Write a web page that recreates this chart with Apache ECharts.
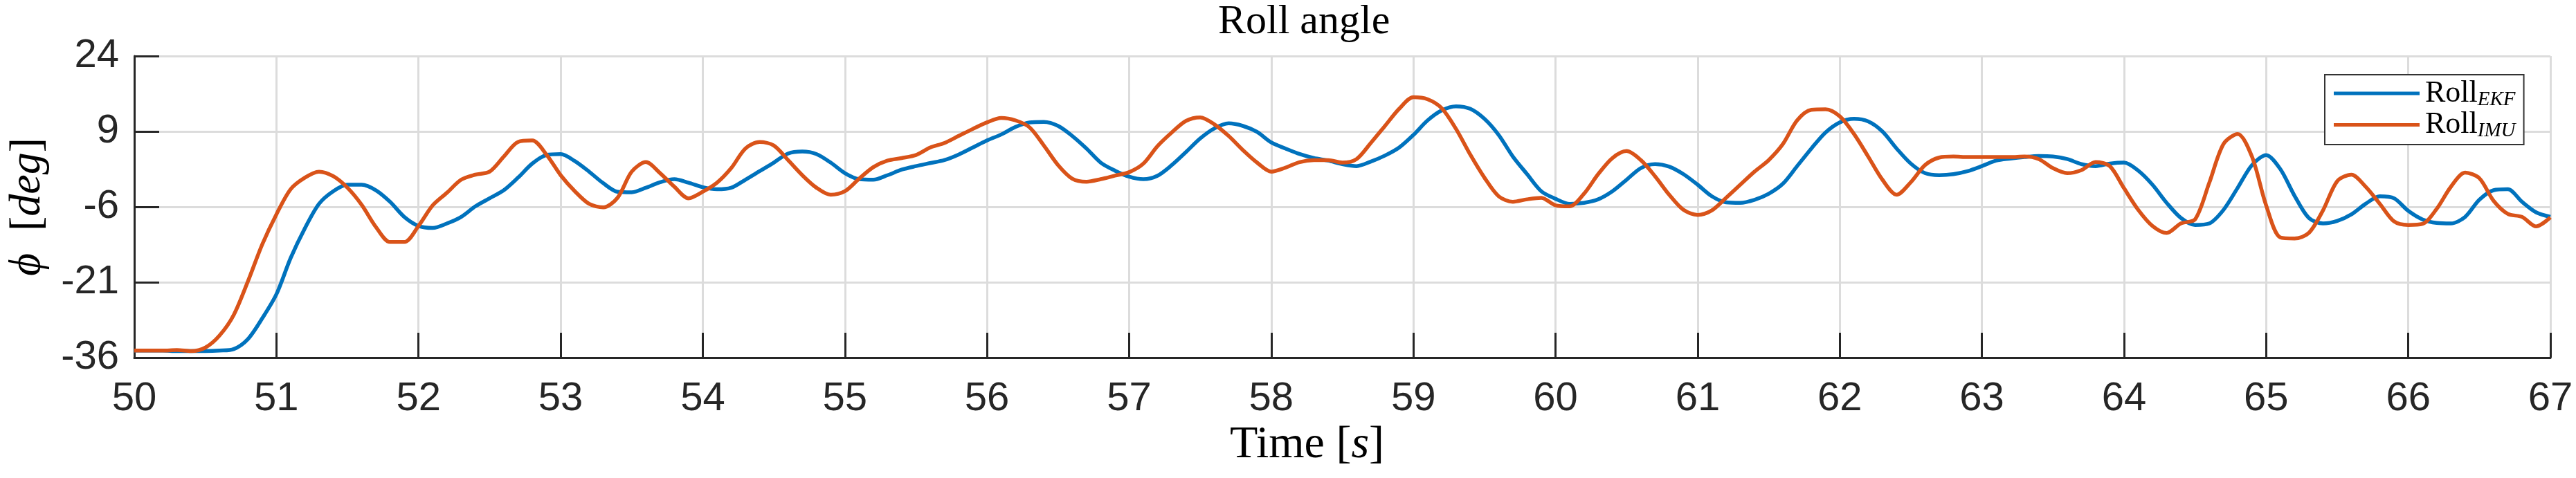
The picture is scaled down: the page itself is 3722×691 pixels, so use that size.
<!DOCTYPE html>
<html>
<head>
<meta charset="utf-8">
<title>Roll angle</title>
<script src="https://cdn.jsdelivr.net/npm/echarts@6/dist/echarts.min.js"></script>
<style>
  html, body { margin: 0; padding: 0; background: #fff; }
  #echarts { width: 3722px; height: 691px; }
</style>
</head>
<body>
<div id="echarts"></div>
<script>
// time stamps [s]
const time = [
  50.0, 50.1, 50.2, 50.3, 50.4, 50.5, 50.6, 50.7, 50.8, 50.9,
  51.0, 51.1, 51.2, 51.3, 51.4, 51.5, 51.6, 51.7, 51.8, 51.9,
  52.0, 52.1, 52.2, 52.3, 52.4, 52.5, 52.6, 52.7, 52.8, 52.9,
  53.0, 53.1, 53.2, 53.3, 53.4, 53.5, 53.6, 53.7, 53.8, 53.9,
  54.0, 54.1, 54.2, 54.3, 54.4, 54.5, 54.6, 54.7, 54.8, 54.9,
  55.0, 55.1, 55.2, 55.3, 55.4, 55.5, 55.6, 55.7, 55.8, 55.9,
  56.0, 56.1, 56.2, 56.3, 56.4, 56.5, 56.6, 56.7, 56.8, 56.9,
  57.0, 57.1, 57.2, 57.3, 57.4, 57.5, 57.6, 57.7, 57.8, 57.9,
  58.0, 58.1, 58.2, 58.3, 58.4, 58.5, 58.6, 58.7, 58.8, 58.9,
  59.0, 59.1, 59.2, 59.3, 59.4, 59.5, 59.6, 59.7, 59.8, 59.9,
  60.0, 60.1, 60.2, 60.3, 60.4, 60.5, 60.6, 60.7, 60.8, 60.9,
  61.0, 61.1, 61.2, 61.3, 61.4, 61.5, 61.6, 61.7, 61.8, 61.9,
  62.0, 62.1, 62.2, 62.3, 62.4, 62.5, 62.6, 62.7, 62.8, 62.9,
  63.0, 63.1, 63.2, 63.3, 63.4, 63.5, 63.6, 63.7, 63.8, 63.9,
  64.0, 64.1, 64.2, 64.3, 64.4, 64.5, 64.6, 64.7, 64.8, 64.9,
  65.0, 65.1, 65.2, 65.3, 65.4, 65.5, 65.6, 65.7, 65.8, 65.9,
  66.0, 66.1, 66.2, 66.3, 66.4, 66.5, 66.6, 66.7, 66.8, 66.9,
  67.0
];

// roll estimated by the EKF [deg]
const rollEKF = [
  -34.6, -34.6, -34.6, -34.7, -34.7, -34.7, -34.6, -34.3, -32.3, -28.2,
  -23.4, -16.2, -10.3, -5.4, -2.9, -1.6, -1.6, -2.7, -5.0, -8.0,
  -9.8, -10.2, -9.3, -8.0, -5.9, -4.3, -2.7, -0.2, 2.6, 4.3,
  4.5, 3.1, 1.0, -1.3, -3.0, -3.1, -2.2, -1.1, -0.5, -1.2,
  -2.1, -2.5, -2.2, -0.6, 1.1, 2.8, 4.6, 5.0, 4.5, 2.8,
  0.7, -0.5, -0.6, 0.3, 1.4, 2.1, 2.7, 3.3, 4.4, 5.8,
  7.2, 8.4, 9.9, 10.8, 10.9, 10.1, 8.1, 5.6, 2.8, 1.2,
  0.0, -0.5, 0.2, 2.3, 4.9, 7.6, 9.6, 10.6, 10.1, 8.9,
  6.8, 5.6, 4.5, 3.7, 3.2, 2.5, 2.1, 3.0, 4.2, 5.8,
  8.3, 11.2, 13.2, 14.0, 13.5, 11.5, 8.3, 4.0, 0.5, -2.9,
  -4.4, -5.4, -5.2, -4.5, -2.9, -0.6, 1.7, 2.5, 2.0, 0.5,
  -1.6, -3.9, -5.1, -5.2, -4.6, -3.4, -1.4, 2.1, 5.6, 8.8,
  10.8, 11.5, 11.0, 9.0, 5.6, 2.6, 0.7, 0.3, 0.5, 1.1,
  2.1, 3.2, 3.6, 3.9, 4.1, 4.0, 3.5, 2.5, 2.1, 2.6,
  2.8, 1.2, -1.6, -5.2, -8.2, -9.6, -9.3, -6.6, -2.2, 2.3,
  4.3, 1.5, -3.8, -8.2, -9.3, -8.8, -7.5, -5.4, -3.9, -4.3,
  -6.8, -8.5, -9.2, -9.3, -8.0, -4.6, -2.7, -2.5, -5.0, -7.1,
  -8.0
];

// roll measured by the IMU [deg]
const rollIMU = [
  -34.6, -34.6, -34.6, -34.5, -34.7, -34.0, -31.6, -27.5, -20.8, -13.5,
  -7.5, -2.5, -0.2, 1.0, 0.1, -2.2, -5.6, -10.0, -13.0, -13.0,
  -9.8, -5.7, -3.2, -0.6, 0.4, 1.0, 4.0, 6.9, 7.2, 4.4,
  0.3, -2.9, -5.4, -6.1, -4.2, 1.0, 2.9, 0.7, -2.0, -4.3,
  -3.0, -1.2, 1.7, 5.6, 6.9, 6.2, 3.3, 0.3, -2.2, -3.6,
  -2.9, -0.4, 1.9, 3.2, 3.7, 4.3, 5.8, 6.7, 8.1, 9.5,
  10.8, 11.7, 11.2, 9.8, 6.2, 2.3, -0.4, -1.0, -0.5, 0.2,
  0.9, 2.6, 6.1, 8.8, 11.1, 11.8, 10.4, 8.1, 5.3, 2.8,
  1.0, 1.8, 2.9, 3.3, 3.3, 2.8, 3.5, 6.7, 10.1, 13.5,
  15.8, 15.4, 13.6, 9.5, 4.4, -0.2, -3.9, -5.0, -4.5, -4.2,
  -5.7, -5.9, -3.4, 0.5, 3.7, 5.1, 3.3, 0.1, -3.6, -6.6,
  -7.6, -6.7, -4.2, -1.6, 1.0, 3.3, 6.5, 11.2, 13.3, 13.4,
  12.0, 8.5, 4.0, -0.6, -3.6, -1.1, 2.3, 3.8, 4.0, 3.9,
  3.9, 3.9, 3.9, 4.0, 3.5, 1.7, 0.7, 1.3, 2.9, 2.1,
  -2.3, -6.6, -9.8, -11.2, -9.3, -8.5, -1.2, 6.5, 8.5, 4.0,
  -5.7, -12.1, -12.3, -11.2, -6.7, -0.9, 0.4, -2.0, -5.4, -8.9,
  -9.6, -9.4, -6.4, -2.0, 0.8, -0.3, -4.8, -7.4, -8.0, -9.9,
  -8.1
];

const yTicks = [-36, -21, -6, 9, 24];

const serif = "'Liberation Serif', 'DejaVu Serif', serif";
const sans = "'Liberation Sans Narrow', 'Liberation Sans', Arial, sans-serif";
const axisColor = '#262626';
const gridColor = '#dcdcdc';

const pair = values => time.map((t, i) => [t, values[i]]);

const subNames = { Roll_EKF: 'EKF', Roll_IMU: 'IMU' };

const option = {
  animation: false,
  backgroundColor: '#fff',
  title: {
    text: 'Roll angle',
    left: 1760,
    top: 2,
    padding: 0,
    textStyle: { fontFamily: serif, fontWeight: 'normal', fontSize: 60, color: '#000' }
  },
  legend: {
    orient: 'vertical',
    left: 3359,
    top: 108,
    padding: [5, 12, 5, 13],
    itemGap: 0,
    itemWidth: 124,
    itemHeight: 5,
    icon: 'rect',
    borderColor: '#333',
    borderWidth: 2,
    backgroundColor: '#fff',
    data: ['Roll_EKF', 'Roll_IMU'],
    formatter: name => '{r|Roll}{s|' + subNames[name] + '}',
    textStyle: {
      rich: {
        r: { fontFamily: serif, fontSize: 44, color: '#000', lineHeight: 47, padding: [0, 0, 0, 3] },
        s: { fontFamily: serif, fontStyle: 'italic', fontSize: 29, color: '#000', lineHeight: 26, verticalAlign: 'bottom' }
      }
    }
  },
  grid: { left: 194, right: 37, top: 81, bottom: 174, containLabel: false },
  xAxis: {
    type: 'value',
    min: 50,
    max: 67,
    interval: 1,
    name: '{n|Time [}{i|s}{n|]}',
    nameLocation: 'middle',
    nameGap: 92,
    nameTextStyle: {
      padding: [0, 102, 0, 0],
      rich: {
        n: { fontFamily: serif, fontSize: 66, color: '#000' },
        i: { fontFamily: serif, fontStyle: 'italic', fontSize: 66, color: '#000' }
      }
    },
    axisLine: { onZero: false, lineStyle: { color: axisColor, width: 3 } },
    axisTick: { inside: true, length: 36, lineStyle: { color: axisColor, width: 3 } },
    axisLabel: { fontFamily: sans, fontSize: 58, color: axisColor, margin: 31 },
    splitLine: { show: true, lineStyle: { color: gridColor, width: 3 } }
  },
  yAxis: {
    type: 'value',
    min: yTicks[0],
    max: yTicks[yTicks.length - 1],
    interval: 15,
    name: '{i|ϕ}{n|  [}{i|deg}{n|]}',
    nameLocation: 'middle',
    nameGap: 122,
    nameTextStyle: {
      rich: {
        n: { fontFamily: serif, fontSize: 64, color: '#000' },
        i: { fontFamily: serif, fontStyle: 'italic', fontSize: 64, color: '#000' }
      }
    },
    axisLine: { onZero: false, lineStyle: { color: axisColor, width: 3 } },
    axisTick: { inside: true, length: 36, lineStyle: { color: axisColor, width: 3 } },
    axisLabel: { fontFamily: sans, fontSize: 58, color: axisColor, margin: 22 },
    splitLine: { show: true, lineStyle: { color: gridColor, width: 3 } }
  },
  series: [
    {
      name: 'Roll_EKF',
      type: 'line',
      data: pair(rollEKF),
      showSymbol: false,
      smooth: 0.3,
      color: '#0072BD',
      lineStyle: { color: '#0072BD', width: 5.5 }
    },
    {
      name: 'Roll_IMU',
      type: 'line',
      data: pair(rollIMU),
      showSymbol: false,
      smooth: 0.3,
      color: '#D95319',
      lineStyle: { color: '#D95319', width: 5.5 }
    }
  ]
};

const chart = echarts.init(document.getElementById('echarts'));
chart.setOption(option);
</script>
</body>
</html>
